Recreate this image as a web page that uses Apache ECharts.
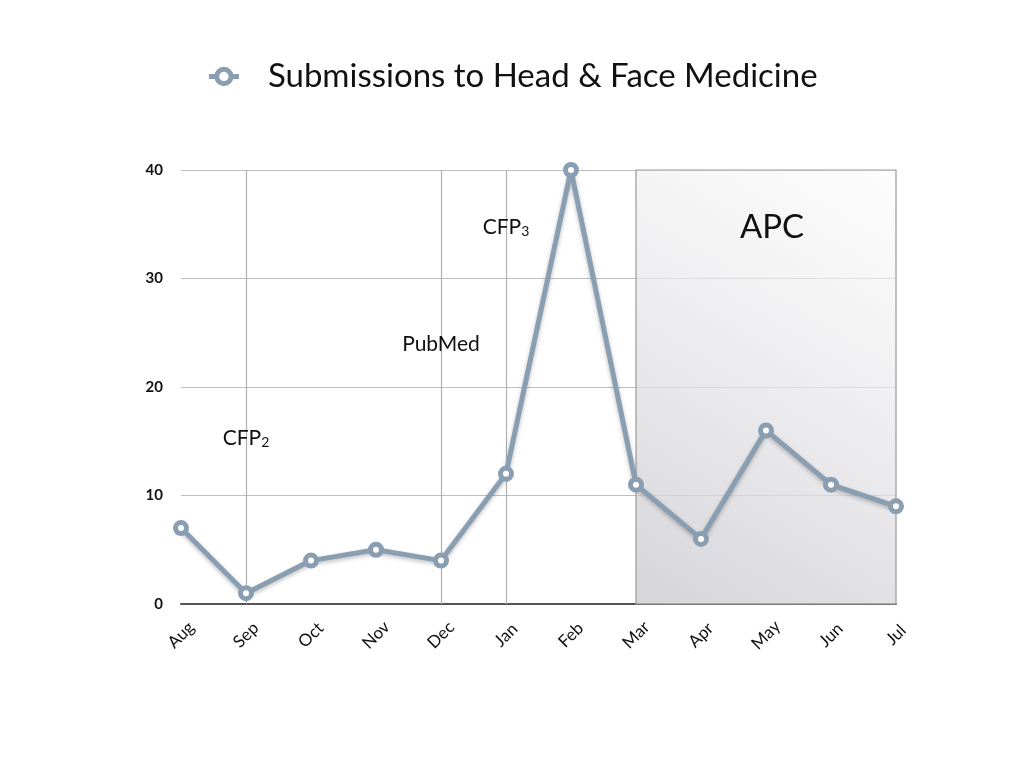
<!DOCTYPE html>
<html>
<head>
<meta charset="utf-8">
<script src="https://cdn.jsdelivr.net/npm/echarts@6/dist/echarts.min.js"></script>
<style>
  html, body { margin: 0; padding: 0; background: #fff; }
  #chart { width: 1024px; height: 768px; }
</style>
</head>
<body>
<div id="chart"></div>
<script>
// 数据
const months = ['Aug', 'Sep', 'Oct', 'Nov', 'Dec', 'Jan', 'Feb', 'Mar', 'Apr', 'May', 'Jun', 'Jul'];
const submissions = [7, 1, 4, 5, 4, 12, 40, 11, 6, 16, 11, 9];
const eventMonths = ['Sep', 'Dec', 'Jan'];
const notes = [
  { name: 'CFP2', month: 'Sep', y: 15.3, text: 'CFP{sub|2}' },
  { name: 'PubMed', month: 'Dec', y: 23.9, text: 'PubMed' },
  { name: 'CFP3', month: 'Jan', y: 34.7, text: 'CFP{sub|3}' }
];
const apcRange = ['Mar', 'Jul'];

const lineColor = '#8a9eb2';
const font = 'Lato, "Open Sans", sans-serif';

const chart = echarts.init(document.getElementById('chart'));

const option = {
  backgroundColor: '#fff',
  animation: false,
  legend: {
    top: 55,
    left: 'center',
    data: ['Submissions to Head & Face Medicine'],
    itemWidth: 30,
    itemHeight: 18,
    lineStyle: { width: 5, color: lineColor },
    itemStyle: { borderWidth: 5, borderColor: lineColor, color: '#fff' },
    textStyle: {
      fontFamily: font,
      fontSize: 33,
      color: '#111',
      padding: [0, 0, 0, 24]
    }
  },
  grid: {
    left: 181,
    right: 128,
    top: 170,
    bottom: 164
  },
  xAxis: {
    type: 'category',
    data: months,
    boundaryGap: false,
    axisLine: { lineStyle: { color: '#555', width: 2 } },
    axisTick: { show: false },
    axisLabel: {
      rotate: 45,
      align: 'center',
      verticalAlign: 'middle',
      margin: 31,
      fontFamily: font,
      fontSize: 17,
      color: '#111'
    },
    splitLine: { show: false }
  },
  yAxis: {
    type: 'value',
    min: 0,
    max: 40,
    interval: 10,
    axisLine: { show: false },
    axisTick: { show: false },
    axisLabel: {
      margin: 18,
      fontFamily: font,
      fontSize: 15,
      fontWeight: 'bold',
      color: '#111'
    },
    splitLine: { lineStyle: { color: '#bdbdbd', width: 1 } }
  },
  series: [
    {
      name: 'Submissions to Head & Face Medicine',
      type: 'line',
      data: submissions,
      symbol: 'circle',
      symbolSize: 11,
      z: 5,
      lineStyle: {
        color: lineColor,
        width: 5,
        shadowColor: 'rgba(0,0,0,0.25)',
        shadowBlur: 4,
        shadowOffsetY: 2
      },
      itemStyle: {
        color: '#fff',
        borderColor: lineColor,
        borderWidth: 5
      },
      markLine: {
        silent: true,
        symbol: 'none',
        label: { show: false },
        lineStyle: { color: '#b0b0b0', type: 'solid', width: 1.2 },
        data: eventMonths.map(m => ({ xAxis: m }))
      },
      markArea: {
        silent: true,
        itemStyle: {
          color: new echarts.graphic.LinearGradient(0, 1, 1, 0, [
            { offset: 0, color: 'rgba(205,205,211,0.85)' },
            { offset: 1, color: 'rgba(252,252,252,0.6)' }
          ]),
          borderColor: '#9a9a9a',
          borderWidth: 1.2
        },
        data: [[{ xAxis: apcRange[0], yAxis: 0 }, { xAxis: apcRange[1], yAxis: 40 }]]
      },
      markPoint: {
        silent: true,
        symbol: 'circle',
        symbolSize: 0,
        itemStyle: { borderWidth: 0 },
        label: {
          show: true,
          position: 'inside',
          fontFamily: font,
          fontSize: 21,
          color: '#111',
          rich: {
            sub: { fontFamily: font, fontSize: 14, color: '#111', verticalAlign: 'bottom', padding: [8, 0, 0, 0] }
          }
        },
        data: notes.map(n => ({
          name: n.name,
          coord: [n.month, n.y],
          label: { formatter: n.text }
        })).concat([{
          name: 'APC',
          coord: ['May', 34.7],
          label: { formatter: 'APC', fontSize: 33, offset: [6, 0] }
        }])
      }
    }
  ]
};

chart.setOption(option);
</script>
</body>
</html>
